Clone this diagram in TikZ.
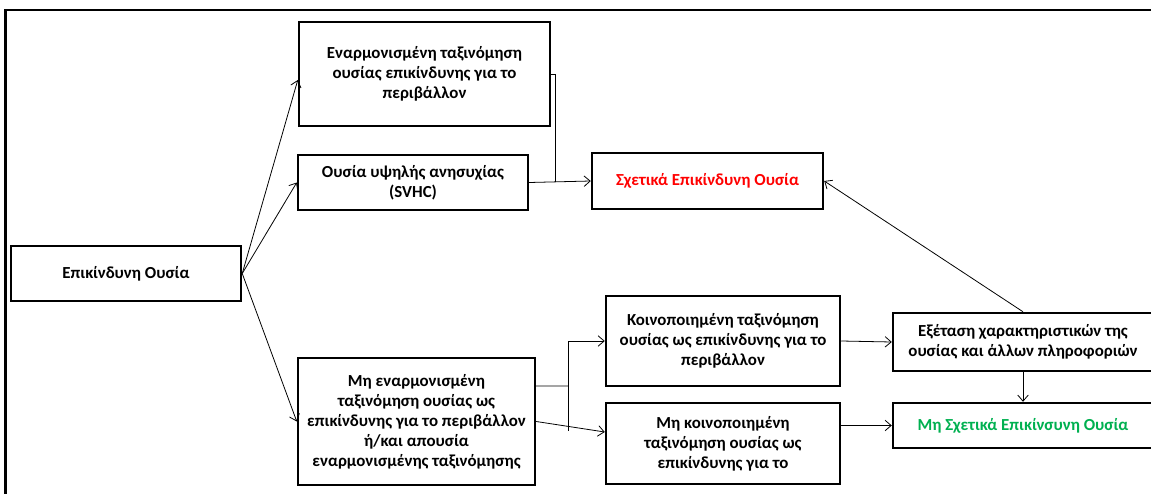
\documentclass[tikz,border=0pt]{standalone}
\usepackage{fontspec}
\setmainfont{Carlito}
\usetikzlibrary{arrows.meta}
\usetikzlibrary{calc}
\definecolor{relred}{RGB}{255,0,0}
\definecolor{relgreen}{RGB}{0,176,80}

\begin{document}
\begin{tikzpicture}[x=0.02cm, y=-0.02cm,
		box/.style={draw, rectangle, line width=1.4pt, align=center, inner sep=0pt,
			font=\fontsize{9.6}{11.4}\selectfont\bfseries},
		arr/.style={-{Straight Barb[length=3.5pt,width=6pt]}, line width=0.45pt}]
		\useasboundingbox (0,0) rectangle (1151,493);
		\draw[line width=1.5pt] (5.5,10) rectangle (1170,510);
		
		\node[box, minimum width=230*0.02cm, minimum height=55*0.02cm] (haz) at (126, 273.5) {Επικίνδυνη Ουσία};
		\node[box, minimum width=251*0.02cm, minimum height=104*0.02cm] (harm) at (424.5, 74) {Εναρμονισμένη ταξινόμηση\\ουσίας επικίνδυνης για το\\περιβάλλον};
		\node[box, minimum width=230*0.02cm, minimum height=55*0.02cm] (svhc) at (413, 182.5) {Ουσία υψηλής ανησυχίας\\(SVHC)};
		\node[box, minimum width=231*0.02cm, minimum height=56*0.02cm, text=relred] (rel) at (707.5, 181) {Σχετικά Επικίνδυνη Ουσία};
		\node[box, minimum width=237*0.02cm, minimum height=127*0.02cm] (nonharm) at (416.5, 421.5) {Μη εναρμονισμένη\\ταξινόμηση ουσίας ως\\επικίνδυνης για το περιβάλλον\\ή/και απουσία\\εναρμονισμένης ταξινόμησης};
		\node[box, minimum width=234*0.02cm, minimum height=90*0.02cm] (notif) at (723, 341) {Κοινοποιημένη ταξινόμηση\\ουσίας ως επικίνδυνης για το\\περιβάλλον};
		\node[box, minimum width=234*0.02cm, minimum height=81*0.02cm] (nonnotif) at (723, 443.5) {Μη κοινοποιημένη\\ταξινόμηση ουσίας ως\\επικίνδυνης για το};
		\node[box, minimum width=260*0.02cm, minimum height=58*0.02cm] (exam) at (1023, 342) {Εξέταση χαρακτηριστικών της\\ουσίας και άλλων πληροφοριών};
		\node[box, minimum width=260*0.02cm, minimum height=45*0.02cm, text=relgreen] (notrel) at (1023, 425.5) {Μη Σχετικά Επικίνσυνη Ουσία};
		
		\coordinate (join) at (555, 182);
		\coordinate (split) at (568, 386);
		
		\draw[arr] (haz.east) -- ([yshift=-0.12cm]harm.west);
		\draw[arr] (haz.east) -- (svhc.west);
		\draw[arr] (haz.east) -- (nonharm.west);
		
		\draw[line width=0.45pt] (harm.east) -| (join);
		\draw[arr] (svhc.east) -- (rel.west);
		
		\draw[line width=0.45pt] ([yshift=0.71cm]nonharm.east) -- (split);
		\draw[line width=0.45pt] (split |- notif.west) -- ++(0, 90);
		\draw[arr] (split |- notif.west) -- (notif.west);
		\draw[arr] (nonharm.east) -- ([yshift=0.23cm]nonnotif.west);
		
		\draw[arr] (notif.east) -- (exam.west);
		\draw[arr] (nonnotif.east |- notrel.west) -- (notrel.west);
		\draw[arr] (exam.south) -- (notrel.north);
		\draw[arr] (exam.north) -- (rel.east);
\end{tikzpicture}
\end{document}
